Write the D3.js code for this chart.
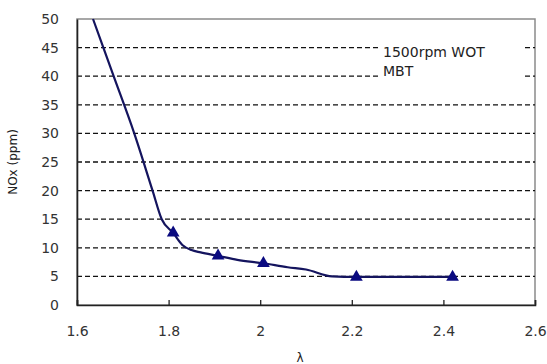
<!DOCTYPE html>
<html>
<head>
<meta charset="utf-8">
<script src="https://cdn.jsdelivr.net/npm/d3@7"></script>
<style>
  body { margin: 0; background: #fff; }
  svg { display: block; }
</style>
</head>
<body>
<div id="chart"></div>
<script>
// measured points (markers)
var lambdaPts = [1.81, 1.908, 2.007, 2.21, 2.42];
var noxPts = [12.6, 8.6, 7.3, 4.9, 4.9];

// curve drawn through them
var lambdaLine = [1.635, 1.68, 1.725, 1.765, 1.785, 1.81, 1.83, 1.85, 1.87, 1.908, 1.95, 2.007, 2.06, 2.1, 2.157, 2.21, 2.42];
var noxLine = [50, 40, 30, 20, 15, 12.6, 10.5, 9.6, 9.2, 8.6, 7.9, 7.3, 6.6, 6.2, 5.0, 4.9, 4.9];

var xTicks = [1.6, 1.8, 2.0, 2.2, 2.4, 2.6];
var yTicks = [0, 5, 10, 15, 20, 25, 30, 35, 40, 45, 50];
var noteLines = ["1500rpm WOT", "MBT"];

var width = 547, height = 364;
var padLeft = 77, padRight = 535, padTop = 19, padBottom = 305;

var svg = d3.select("#chart").append("svg")
  .attr("width", width)
  .attr("height", height)
  .style("font-family", "'DejaVu Sans', sans-serif");

var x = d3.scaleLinear().domain([1.6, 2.6]).range([padLeft, padRight]);
var y = d3.scaleLinear().domain([0, 50]).range([padBottom, padTop]);

// plot frame (top/right grey)
svg.append("rect")
  .attr("x", padLeft).attr("y", padTop)
  .attr("width", padRight - padLeft).attr("height", padBottom - padTop)
  .attr("fill", "white")
  .attr("stroke", "#8a8a8a")
  .attr("stroke-width", 1.5);

// dashed grid
svg.append("g")
  .selectAll("line")
  .data(yTicks.filter(function(d) { return d > 0 && d < 50; }))
  .enter().append("line")
    .attr("x1", padLeft).attr("x2", padRight)
    .attr("y1", function(d) { return y(d); })
    .attr("y2", function(d) { return y(d); })
    .attr("stroke", "#111")
    .attr("stroke-width", 1.3)
    .attr("stroke-dasharray", "5,3");

// note box hides the grid behind the text
svg.append("rect")
  .attr("x", 381).attr("y", 37)
  .attr("width", 141).attr("height", 50)
  .attr("fill", "white");

svg.append("g")
  .selectAll("text")
  .data(noteLines)
  .enter().append("text")
    .attr("x", 383)
    .attr("y", function(d, i) { return 57 + i * 19; })
    .attr("font-size", 14)
    .attr("fill", "#222")
    .text(function(d) { return d; });

// x axis
var xAxis = d3.axisBottom(x)
  .tickValues(xTicks)
  .tickSize(-5)
  .tickPadding(21)
  .tickFormat(function(d) { return d === 2 ? "2" : d3.format(".1f")(d); });

var gx = svg.append("g")
  .attr("transform", "translate(0," + padBottom + ")")
  .call(xAxis);
gx.select(".domain").attr("stroke", "#222").attr("stroke-width", 1.6);
gx.selectAll(".tick line").attr("stroke", "#222").attr("stroke-width", 1.3);
gx.selectAll(".tick text").attr("font-size", 14).attr("fill", "#333").attr("font-family", "'DejaVu Sans', sans-serif");

// y axis
var yAxis = d3.axisLeft(y)
  .tickValues(yTicks)
  .tickSize(0)
  .tickPadding(18);

var gy = svg.append("g")
  .attr("transform", "translate(" + padLeft + ",0)")
  .call(yAxis);
gy.select(".domain").attr("stroke", "#222").attr("stroke-width", 1.6);
gy.selectAll(".tick text").attr("font-size", 14).attr("fill", "#333").attr("font-family", "'DejaVu Sans', sans-serif");

// axis titles
svg.append("text")
  .attr("transform", "translate(17," + ((padTop + padBottom) / 2) + ") rotate(-90)")
  .attr("text-anchor", "middle")
  .attr("font-size", 12)
  .attr("fill", "#222")
  .text("NOx (ppm)");

svg.append("text")
  .attr("x", 300).attr("y", 362)
  .attr("text-anchor", "middle")
  .attr("font-size", 12)
  .attr("fill", "#222")
  .text("λ");

// curve
var lineData = lambdaLine.map(function(d, i) { return [d, noxLine[i]]; });
var line = d3.line()
  .x(function(d) { return x(d[0]); })
  .y(function(d) { return y(d[1]); })
  .curve(d3.curveMonotoneX);

svg.append("path")
  .datum(lineData)
  .attr("d", line)
  .attr("fill", "none")
  .attr("stroke", "#14145e")
  .attr("stroke-width", 2.2);

// triangle markers
var tri = d3.symbol().type(d3.symbolTriangle).size(70);
svg.append("g")
  .selectAll("path")
  .data(lambdaPts)
  .enter().append("path")
    .attr("d", tri)
    .attr("transform", function(d, i) { return "translate(" + x(d) + "," + y(noxPts[i]) + ")"; })
    .attr("fill", "#0a0a80");
</script>
</body>
</html>
